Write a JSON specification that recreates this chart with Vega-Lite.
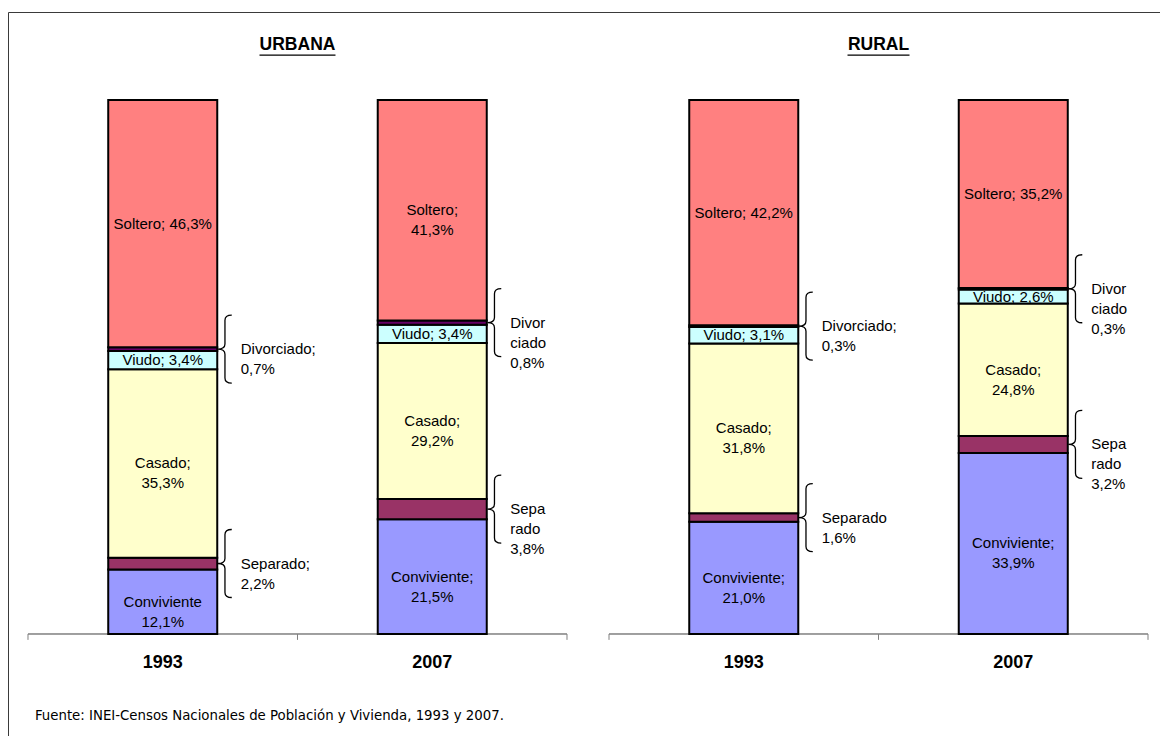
{
  "$schema": "https://vega.github.io/schema/vega-lite/v6.json",
  "width": 1160,
  "height": 736,
  "padding": {"left": 8, "top": 12, "right": 0, "bottom": 0},
  "config": {
    "view": {"stroke": "#3a3a3a", "strokeWidth": 1},
    "font": "Liberation Sans",
    "text": {"font": "Liberation Sans", "color": "black"}
  },
  "datasets": {
    "estados": [
      {"zona": "URBANA", "anio": "1993", "estado": "Conviviente", "valor": 12.1, "etiqueta": "Conviviente\n12,1%"},
      {"zona": "URBANA", "anio": "1993", "estado": "Separado", "valor": 2.2, "etiqueta": "Separado;\n2,2%"},
      {"zona": "URBANA", "anio": "1993", "estado": "Casado", "valor": 35.3, "etiqueta": "Casado;\n35,3%"},
      {"zona": "URBANA", "anio": "1993", "estado": "Viudo", "valor": 3.4, "etiqueta": "Viudo; 3,4%"},
      {"zona": "URBANA", "anio": "1993", "estado": "Divorciado", "valor": 0.7, "etiqueta": "Divorciado;\n0,7%"},
      {"zona": "URBANA", "anio": "1993", "estado": "Soltero", "valor": 46.3, "etiqueta": "Soltero; 46,3%"},
      {"zona": "URBANA", "anio": "2007", "estado": "Conviviente", "valor": 21.5, "etiqueta": "Conviviente;\n21,5%"},
      {"zona": "URBANA", "anio": "2007", "estado": "Separado", "valor": 3.8, "etiqueta": "Sepa\nrado\n3,8%"},
      {"zona": "URBANA", "anio": "2007", "estado": "Casado", "valor": 29.2, "etiqueta": "Casado;\n29,2%"},
      {"zona": "URBANA", "anio": "2007", "estado": "Viudo", "valor": 3.4, "etiqueta": "Viudo; 3,4%"},
      {"zona": "URBANA", "anio": "2007", "estado": "Divorciado", "valor": 0.8, "etiqueta": "Divor\nciado\n 0,8%"},
      {"zona": "URBANA", "anio": "2007", "estado": "Soltero", "valor": 41.3, "etiqueta": "Soltero;\n41,3%"},
      {"zona": "RURAL", "anio": "1993", "estado": "Conviviente", "valor": 21.0, "etiqueta": "Conviviente;\n21,0%"},
      {"zona": "RURAL", "anio": "1993", "estado": "Separado", "valor": 1.6, "etiqueta": "Separado\n1,6%"},
      {"zona": "RURAL", "anio": "1993", "estado": "Casado", "valor": 31.8, "etiqueta": "Casado;\n31,8%"},
      {"zona": "RURAL", "anio": "1993", "estado": "Viudo", "valor": 3.1, "etiqueta": "Viudo; 3,1%"},
      {"zona": "RURAL", "anio": "1993", "estado": "Divorciado", "valor": 0.3, "etiqueta": "Divorciado;\n0,3%"},
      {"zona": "RURAL", "anio": "1993", "estado": "Soltero", "valor": 42.2, "etiqueta": "Soltero; 42,2%"},
      {"zona": "RURAL", "anio": "2007", "estado": "Conviviente", "valor": 33.9, "etiqueta": "Conviviente;\n33,9%"},
      {"zona": "RURAL", "anio": "2007", "estado": "Separado", "valor": 3.2, "etiqueta": "Sepa\nrado\n3,2%"},
      {"zona": "RURAL", "anio": "2007", "estado": "Casado", "valor": 24.8, "etiqueta": "Casado;\n24,8%"},
      {"zona": "RURAL", "anio": "2007", "estado": "Viudo", "valor": 2.6, "etiqueta": "Viudo; 2,6%"},
      {"zona": "RURAL", "anio": "2007", "estado": "Divorciado", "valor": 0.3, "etiqueta": "Divor\nciado\n 0,3%"},
      {"zona": "RURAL", "anio": "2007", "estado": "Soltero", "valor": 35.2, "etiqueta": "Soltero; 35,2%"}
    ],
    "zonas": [{"zona": "URBANA"}, {"zona": "RURAL"}],
    "anios": [
      {"zona": "URBANA", "anio": "1993"},
      {"zona": "URBANA", "anio": "2007"},
      {"zona": "RURAL", "anio": "1993"},
      {"zona": "RURAL", "anio": "2007"}
    ],
    "fuente": [{"zona": "URBANA", "texto": "Fuente: INEI-Censos Nacionales de Población y Vivienda, 1993 y 2007."}]
  },
  "layer": [
    {
      "data": {"name": "zonas"},
      "mark": {"type": "bar", "fillOpacity": 0, "stroke": "#808080", "strokeWidth": 1},
      "encoding": {
        "x": {"field": "zona", "type": "nominal", "scale": {"domain": ["URBANA", "RURAL"], "paddingInner": 0.0723, "paddingOuter": 0.0344}, "axis": null},
        "y": {"datum": 0, "type": "quantitative", "scale": {"domain": [-21.35, 116.48], "nice": false, "zero": false}, "axis": null},
        "y2": {"datum": 0}
      }
    },
    {
      "data": {"name": "zonas"},
      "mark": {"type": "rule", "stroke": "#808080", "strokeWidth": 1},
      "encoding": {
        "x": {"field": "zona", "type": "nominal", "bandPosition": 0, "axis": null},
        "y": {"datum": 0, "type": "quantitative"},
        "y2": {"datum": -1.1}
      }
    },
    {
      "data": {"name": "zonas"},
      "mark": {"type": "rule", "stroke": "#808080", "strokeWidth": 1},
      "encoding": {
        "x": {"field": "zona", "type": "nominal", "bandPosition": 0.5, "axis": null},
        "y": {"datum": 0, "type": "quantitative"},
        "y2": {"datum": -1.1}
      }
    },
    {
      "data": {"name": "zonas"},
      "mark": {"type": "rule", "stroke": "#808080", "strokeWidth": 1},
      "encoding": {
        "x": {"field": "zona", "type": "nominal", "bandPosition": 1, "axis": null},
        "y": {"datum": 0, "type": "quantitative"},
        "y2": {"datum": -1.1}
      }
    },
    {
      "data": {"name": "estados"},
      "transform": [
        {"calculate": "indexof(['Conviviente','Separado','Casado','Viudo','Divorciado','Soltero'], datum.estado)", "as": "orden"},
        {"stack": "valor", "groupby": ["zona", "anio"], "sort": [{"field": "orden", "order": "ascending"}], "as": ["y0", "y1"]},
        {"calculate": "(datum.y0 + datum.y1) / 2", "as": "ymid"}
      ],
      "layer": [
        {
          "mark": {"type": "bar", "stroke": "black", "strokeWidth": 2},
          "encoding": {
            "x": {"field": "zona", "type": "nominal", "axis": null},
            "xOffset": {"field": "anio", "type": "nominal", "scale": {"domain": ["1993", "2007"], "paddingInner": 0.5955, "paddingOuter": 0.29775}},
            "y": {"field": "y0", "type": "quantitative"},
            "y2": {"field": "y1"},
            "color": {
              "field": "estado", "type": "nominal", "legend": null,
              "scale": {
                "domain": ["Conviviente", "Separado", "Casado", "Viudo", "Divorciado", "Soltero"],
                "range": ["#9999FF", "#993366", "#FFFFCC", "#CCFFFF", "#660066", "#FF8080"]
              }
            }
          }
        },
        {
          "transform": [{"filter": "datum.estado != 'Separado' && datum.estado != 'Divorciado'"}],
          "mark": {"type": "text", "fontSize": 15, "lineBreak": "\n", "lineHeight": 20, "align": "center", "baseline": "middle"},
          "encoding": {
            "x": {"field": "zona", "type": "nominal", "axis": null},
            "xOffset": {"field": "anio", "type": "nominal"},
            "y": {"field": "ymid", "type": "quantitative"},
            "text": {"field": "etiqueta"}
          }
        },
        {
          "transform": [{"filter": "datum.estado == 'Separado' || datum.estado == 'Divorciado'"}],
          "mark": {"type": "text", "fontSize": 15, "lineBreak": "\n", "lineHeight": 20, "align": "left", "baseline": "middle", "dx": 78},
          "encoding": {
            "x": {"field": "zona", "type": "nominal", "axis": null},
            "xOffset": {"field": "anio", "type": "nominal"},
            "y": {"field": "ymid", "type": "quantitative"},
            "text": {"field": "etiqueta"}
          }
        },
        {
          "transform": [{"filter": "datum.estado == 'Separado' || datum.estado == 'Divorciado'"}],
          "mark": {
            "type": "point",
            "shape": "M2.03,-1 Q1.83,-1 1.83,-0.85 L1.83,-0.15 Q1.83,0 1.62,0 Q1.83,0 1.83,0.15 L1.83,0.85 Q1.83,1 2.03,1",
            "size": 4624,
            "filled": false,
            "stroke": "black",
            "strokeWidth": 1.3,
            "opacity": 1
          },
          "encoding": {
            "x": {"field": "zona", "type": "nominal", "axis": null},
            "xOffset": {"field": "anio", "type": "nominal"},
            "y": {"field": "ymid", "type": "quantitative"}
          }
        }
      ]
    },
    {
      "data": {"name": "anios"},
      "mark": {"type": "text", "fontSize": 18, "fontWeight": "bold", "align": "center", "baseline": "middle"},
      "encoding": {
        "x": {"field": "zona", "type": "nominal", "axis": null},
        "xOffset": {"field": "anio", "type": "nominal"},
        "y": {"datum": -5.43, "type": "quantitative"},
        "text": {"field": "anio"}
      }
    },
    {
      "data": {"name": "zonas"},
      "mark": {"type": "text", "fontSize": 17.5, "fontWeight": "bold", "align": "center", "baseline": "middle"},
      "encoding": {
        "x": {"field": "zona", "type": "nominal", "axis": null},
        "y": {"datum": 110.3, "type": "quantitative"},
        "text": {"field": "zona"}
      }
    },
    {
      "data": {"values": [{"zona": "URBANA"}]},
      "mark": {"type": "bar", "width": 76, "fillOpacity": 0, "stroke": "black", "strokeWidth": 1.3},
      "encoding": {
        "x": {"field": "zona", "type": "nominal", "axis": null},
        "y": {"datum": 108.4, "type": "quantitative"},
        "y2": {"datum": 108.4}
      }
    },
    {
      "data": {"values": [{"zona": "RURAL"}]},
      "mark": {"type": "bar", "width": 62, "fillOpacity": 0, "stroke": "black", "strokeWidth": 1.3},
      "encoding": {
        "x": {"field": "zona", "type": "nominal", "axis": null},
        "y": {"datum": 108.4, "type": "quantitative"},
        "y2": {"datum": 108.4}
      }
    },
    {
      "data": {"name": "fuente"},
      "mark": {"type": "text", "font": "DejaVu Sans Condensed, Liberation Sans", "fontSize": 14.8, "align": "left", "baseline": "middle", "dx": 7},
      "encoding": {
        "x": {"field": "zona", "type": "nominal", "bandPosition": 0, "axis": null},
        "y": {"datum": -15.36, "type": "quantitative"},
        "text": {"field": "texto"}
      }
    }
  ]
}
